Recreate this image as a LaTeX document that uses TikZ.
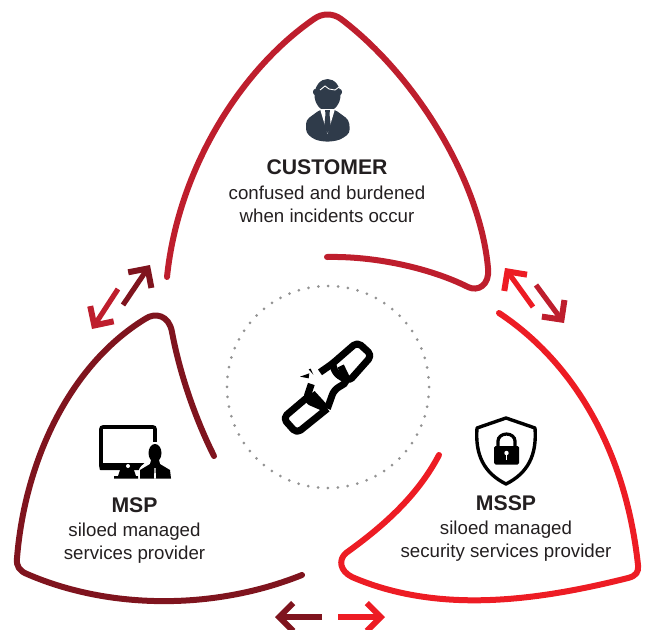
\documentclass[tikz,border=0pt]{standalone}
\usepackage{fontspec}
\setmainfont{Liberation Sans}
\usetikzlibrary{arrows.meta}
\definecolor{crim}{HTML}{BE1E2D}
\definecolor{dark}{HTML}{7F141E}
\definecolor{bright}{HTML}{ED1C24}
\definecolor{slate}{HTML}{2F3B4A}
\definecolor{ink}{HTML}{231F20}
\tikzset{
  petal/.style={line width=6pt,line cap=round,line join=round},
  dbl/.style={line width=5.2pt,-{Straight Barb[length=14pt,width=28pt,line width=6pt]}},
  lbl/.style={align=center,text=ink,font=\fontsize{18.7}{23}\selectfont,inner sep=0pt},
  linkline/.style={line width=7pt,line join=round,rounded corners=5pt,black},
}
\newcommand{\hd}[1]{{\fontsize{21.2}{27}\selectfont\bfseries #1}}
\begin{document}
\begin{tikzpicture}[x=1pt,y=-1pt]
\useasboundingbox (0,0) rectangle (645,629);
% petals
\draw[petal,crim] (167,277) .. controls (178,170) and (240,70) .. (314,19) .. controls (322,13) and (333,13) .. (341,19) .. controls (415,75) and (480,180) .. (488,268) .. controls (490,285) and (478,292) .. (468,287) .. controls (430,268) and (375,256) .. (327,257);
\draw[petal,dark] (214,456) .. controls (196,420) and (180,375) .. (172,332) .. controls (169,315) and (155,312) .. (145,319) .. controls (70,365) and (25,460) .. (17,558) .. controls (16,567) and (20,571) .. (27,574) .. controls (110,610) and (215,610) .. (302,575);
\draw[petal,bright] (499,313) .. controls (570,360) and (625,445) .. (638,565) .. controls (639,572) and (636,576) .. (628,578) .. controls (540,600) and (440,615) .. (352,577) .. controls (340,571) and (338,560) .. (346,553) .. controls (385,525) and (418,495) .. (439,455);
% arrows
\coordinate (trA) at (533,307); \coordinate (trB) at (505,268);
\coordinate (trC) at (536,285); \coordinate (trD) at (564,323);
\coordinate (tlA) at (123,305); \coordinate (tlB) at (150,265);
\coordinate (tlC) at (118,289); \coordinate (tlD) at (92,329);
\coordinate (bA) at (322,617); \coordinate (bB) at (275,617);
\coordinate (bC) at (338,617); \coordinate (bD) at (385,617);
\draw[dbl,bright] (trA) -- (trB);
\draw[dbl,crim] (trC) -- (trD);
\draw[dbl,dark] (tlA) -- (tlB);
\draw[dbl,crim] (tlC) -- (tlD);
\draw[dbl,dark] (bA) -- (bB);
\draw[dbl,bright] (bC) -- (bD);
% dotted circle
\draw[gray!85,line width=3pt,line cap=round,dash pattern=on 0pt off 9.92pt] (328,387) circle (101);
% broken link
\begin{scope}[shift={(220,280)},scale=1/3]
\draw[linkline] (300,277) -- (336,252) -- (412,186) -- (456,226) -- (385,306) -- (362,258);
\draw[linkline] (338,252) -- (346,280) -- (385,304) -- (342,330) -- (322,386);
\draw[linkline] (322,386) -- (230,460) -- (189,414) -- (262,352);
\draw[linkline] (274,312) -- (258,360) -- (318,386) -- (276,340);
\fill (240,290) -- (268,280) -- (266,295) -- cycle;
\fill (266,268) -- (280,284) -- (272,266) -- cycle;
\end{scope}
% person
\begin{scope}
\fill[slate] (315,92) ellipse (2 and 3);
\fill[slate] (340,92) ellipse (2 and 3);
\fill[slate] (327.5,95) ellipse (13 and 16);
\draw[white,line width=0.9pt] (320,90) -- (325,86) -- (329,89) -- (335,90) -- (339,87);
\fill[slate,rounded corners=4pt] (306,120) -- (321,109) -- (334,109) -- (349,120) -- (350,133) -- (340,140) -- (327.5,142) -- (315,140) -- (306,133) -- cycle;
\fill[white] (320,109) -- (335,109) -- (327.5,134) -- cycle;
\fill[slate] (325,110) -- (330,110) -- (329.5,114) -- (331,128) -- (327.5,133) -- (324,128) -- (325.5,114) -- cycle;
\end{scope}
% monitor
\begin{scope}
\draw[black,line width=3.6pt,rounded corners=2pt] (101,427) rectangle (155,468);
\fill[black,rounded corners=1pt] (99.5,463) rectangle (157,470);
\fill[black] (120,470) -- (134,470) -- (136,476) -- (138,476) -- (138,478.5) -- (114,478.5) -- (114,476) -- (118,476) -- cycle;
\fill[white] (128,466) circle (2);
\fill[white,rounded corners=3pt] (138,478.5) -- (139,468) -- (146,462) -- (148,442) -- (163,442) -- (165,462) -- (172,470) -- (172,478.5) -- cycle;
\fill[black] (155,453) ellipse (6.5 and 9);
\fill[black] (140,478.5) -- (140,470) -- (150,464) -- (151,460) -- (159,460) -- (160,464) -- (170,470) -- (171,478.5) -- cycle;
\fill[white] (154.5,468) -- (155.5,468) -- (156,478.5) -- (154,478.5) -- cycle;
\end{scope}
% shield and lock
\begin{scope}
\draw[black,line width=3.4pt,line join=round] (506,418) -- (535,428) .. controls (537,455) and (528,473) .. (506,484) .. controls (484,473) and (475,455) .. (477,428) -- cycle;
\draw[black,line width=3.2pt] (498,447) -- (498,441) arc[start angle=180,end angle=360,x radius=8.5,y radius=7] -- (515,447);
\fill[black,rounded corners=1.5pt] (494,446) rectangle (519,464.5);
\fill[white] (506.5,453) circle (2.2);
\fill[white] (505.6,453) rectangle (507.4,460);
\end{scope}
% texts
\node[lbl] (custlabel) at (327,191) {\hd{CUSTOMER}\\[1.5pt]confused and burdened\\when incidents occur};
\node[lbl] (msplabel) at (134.5,530.5) {\hd{MSP}\\[1.5pt]siloed managed\\services provider};
\node[lbl] (mssplabel) at (506,528.5) {\hd{MSSP}\\[1.5pt]siloed managed\\security services provider};
\end{tikzpicture}
\end{document}
